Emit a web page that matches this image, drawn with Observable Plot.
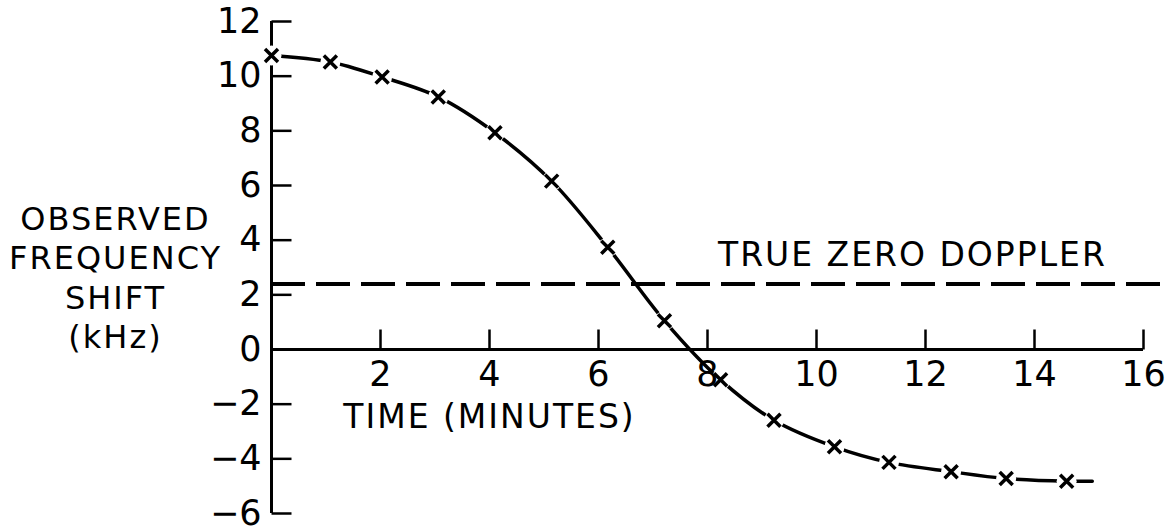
<!DOCTYPE html>
<html>
<head>
<meta charset="utf-8">
<script src="https://cdn.jsdelivr.net/npm/d3@7"></script>
<script src="https://cdn.jsdelivr.net/npm/@observablehq/plot@0.6"></script>
<style>
  html, body { margin: 0; padding: 0; background: #fff; }
</style>
</head>
<body>
<div id="chart"></div>
<script>
// Observed Doppler shift during a satellite pass
const times  = [0, 1.08, 2.03, 3.06, 4.10, 5.14, 6.17, 7.21, 8.24, 9.22, 10.33, 11.33, 12.47, 13.48, 14.59];
const shifts = [10.76, 10.52, 9.97, 9.24, 7.93, 6.16, 3.74, 1.05, -1.11, -2.59, -3.56, -4.13, -4.47, -4.72, -4.82];
// the drawn trace runs a little past the last observation
const traceEndTime = 15.06;
const traceEndShift = -4.82;

// level of true zero Doppler and how far its dashed line runs
const trueZeroDoppler = 2.4;
const trueZeroEnd = 16.37;

const xTicks = [2, 4, 6, 8, 10, 12, 14, 16];
const xTickLabels = ["2", "4", "6", "8", "10", "12", "14", "16"];
const yTicks = [-6, -4, -2, 0, 2, 4, 6, 8, 10, 12];
const yTickLabels = ["\u22126", "\u22124", "\u22122", "0", "2", "4", "6", "8", "10", "12"];

const yTitle = "OBSERVED\nFREQUENCY\nSHIFT\n(kHz)";
const xTitle = "TIME (MINUTES)";
const lineLabel = "TRUE ZERO DOPPLER";

const points = times.map((t, i) => ({time: t, shift: shifts[i]}));
const trace = [...points, {time: traceEndTime, shift: traceEndShift}];

// inward-pointing tick strokes and the × plotting symbol
const tickUp = {draw(ctx) { ctx.moveTo(0, 0); ctx.lineTo(0, -20); }};
const tickRight = {draw(ctx) { ctx.moveTo(0, 0); ctx.lineTo(20, 0); }};
const cross = {draw(ctx) {
  const h = 6.5;
  ctx.moveTo(-h, -h); ctx.lineTo(h, h);
  ctx.moveTo(-h, h); ctx.lineTo(h, -h);
}};

const chart = Plot.plot({
  width: 1172,
  height: 531,
  marginLeft: 271,
  marginRight: 29,
  marginTop: 21,
  marginBottom: 18,
  x: {domain: [0, 16], axis: null},
  y: {domain: [-6, 12], axis: null},
  style: {fontFamily: "'DejaVu Sans', sans-serif", color: "black", background: "white", overflow: "visible"},
  marks: [
    // axes
    Plot.ruleY([0], {stroke: "black", strokeWidth: 3}),
    Plot.ruleX([0], {stroke: "black", strokeWidth: 3}),
    Plot.dot(xTicks, {x: d => d, y: 0, symbol: tickUp, fill: "none", stroke: "black", strokeWidth: 2.5}),
    Plot.dot(yTicks, {x: 0, y: d => d, symbol: tickRight, fill: "none", stroke: "black", strokeWidth: 2.5}),

    // true zero Doppler reference
    Plot.ruleY([trueZeroDoppler], {x1: 0, x2: trueZeroEnd, stroke: "black", strokeWidth: 4, strokeDasharray: "34,11"}),

    // observed trace with gaps around each observation
    Plot.line(trace, {x: "time", y: "shift", curve: "catmull-rom", stroke: "black", strokeWidth: 3.5}),
    Plot.dot(points, {x: "time", y: "shift", r: 10, fill: "white", stroke: "none"}),
    Plot.dot(points, {x: "time", y: "shift", symbol: cross, fill: "none", stroke: "black", strokeWidth: 3.5}),

    // tick labels
    Plot.text(xTicks, {x: d => d, y: 0, text: (d, i) => xTickLabels[i], dy: 25, fontSize: 35, fill: "black"}),
    Plot.text(yTicks, {x: 0, y: d => d, text: (d, i) => yTickLabels[i], textAnchor: "end", dx: -10, fontSize: 35, fill: "black"}),

    // titles and annotation
    Plot.text([yTitle], {frameAnchor: "left", textAnchor: "middle", dx: -156, dy: 9, text: d => d, lineHeight: 1.22, fontSize: 32, fill: "black"}),
    Plot.text([xTitle], {x: 4, y: -2.5, text: d => d, fontSize: 33, fill: "black"}),
    Plot.text([lineLabel], {x: 11.76, y: 3.45, text: d => d, fontSize: 33, fill: "black"})
  ]
});

// widen the tracking of the lettered titles
d3.select(chart).selectAll("text")
  .filter(function() { return /[A-Za-z]/.test(this.textContent); })
  .attr("letter-spacing", "2px");

document.getElementById("chart").appendChild(chart);
</script>
</body>
</html>
